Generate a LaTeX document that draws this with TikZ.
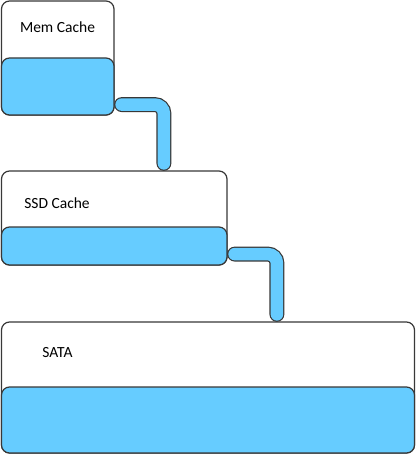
\documentclass[tikz,border=0pt]{standalone}
\usepackage{fontspec}
\setmainfont{Carlito}
\usetikzlibrary{positioning}
\begin{document}
\begin{tikzpicture}[x=1pt, y=-1pt]
% Storage tiers, units are pixels of the sketch (y grows downward)
\providecommand{\tierLineColor}{black!78}
\providecommand{\tierLineWidth}{1.2pt}
\providecommand{\tierRadius}{8pt}
\definecolor{tierfill}{HTML}{66CCFF}
\tikzset{
  tierbox/.style={draw=\tierLineColor, line width=\tierLineWidth, rounded corners=\tierRadius, fill=white, inner sep=0pt},
  tierpool/.style={tierbox, fill=tierfill},
  tierlabel/.style={font=\fontsize{15.5}{18}\selectfont, inner sep=0pt},
  pipe/.style={draw=\tierLineColor, line width=\tierLineWidth, double=tierfill, double distance=12.5pt, line cap=round, rounded corners=9pt}
}
\useasboundingbox (0,0) rectangle (416,454);
% Outer boxes
\node[tierbox, minimum width=112.5pt, minimum height=114pt] (membox) at (57.75,58) {};
\node[tierbox, minimum width=225.5pt, minimum height=94pt] (ssdbox) at (114.25,218) {};
\node[tierbox, minimum width=413pt, minimum height=131pt] (satabox) at (208,387.5) {};
% Filled part of each box
\node[tierpool, anchor=south, minimum width=112.5pt, minimum height=57pt] (memfill) at (membox.south) {};
\node[tierpool, anchor=south, minimum width=225.5pt, minimum height=38pt] (ssdfill) at (ssdbox.south) {};
\node[tierpool, anchor=south, minimum width=413pt, minimum height=66pt] (satafill) at (satabox.south) {};
% Labels
\node[tierlabel] (memlabel) at (57.5,27) {Mem Cache};
\node[tierlabel] (ssdlabel) at (57,203) {SSD Cache};
\node[tierlabel] (satalabel) at (57.5,352.5) {SATA};
% Pipes from one tier down to the next
\draw[pipe] ([shift={(7pt,11pt)}]memfill.south east) -| ([shift={(163pt,7pt)}]ssdbox.north west);
\draw[pipe] ([shift={(7pt,11.5pt)}]ssdfill.south east) -| ([shift={(276pt,7pt)}]satabox.north west);
\end{tikzpicture}
\end{document}
